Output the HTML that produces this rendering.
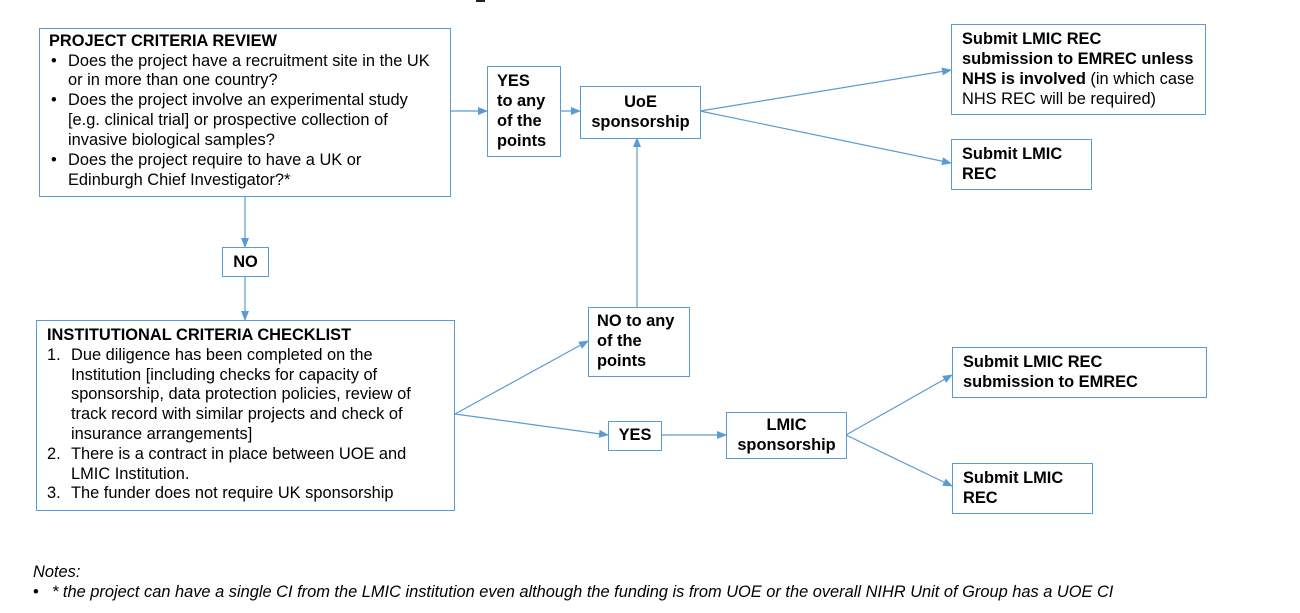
<!DOCTYPE html>
<html><head><meta charset="utf-8"><style>
body{margin:0;background:#fff;}
#c{position:relative;width:1300px;height:613px;overflow:hidden;font-family:"Liberation Sans",Arial,sans-serif;font-size:16.4px;color:#000;}
.b{position:absolute;border:1.3px solid #5b9bd5;box-sizing:border-box;background:#fff;}
.t{position:absolute;white-space:nowrap;line-height:20px;}
.bd{font-weight:bold;}
svg{position:absolute;left:0;top:0;}
</style></head><body><div id="c">
<svg width="1300" height="613">
<defs><marker id="a" markerWidth="10" markerHeight="8" refX="9" refY="4" orient="auto" markerUnits="userSpaceOnUse"><path d="M0,0 L10,4 L0,8 z" fill="#5b9bd5"/></marker></defs>
<g stroke="#5b9bd5" stroke-width="1.2" fill="none">
<line x1="450" y1="111" x2="487" y2="111" marker-end="url(#a)"/>
<line x1="560" y1="111" x2="580" y2="111" marker-end="url(#a)"/>
<line x1="700" y1="111" x2="951" y2="70" marker-end="url(#a)"/>
<line x1="700" y1="111" x2="951" y2="163" marker-end="url(#a)"/>
<line x1="245" y1="196" x2="245" y2="247" marker-end="url(#a)"/>
<line x1="245" y1="276" x2="245" y2="320" marker-end="url(#a)"/>
<line x1="455" y1="414" x2="588" y2="341" marker-end="url(#a)"/>
<line x1="455" y1="414" x2="608" y2="435" marker-end="url(#a)"/>
<line x1="637" y1="307" x2="637" y2="138" marker-end="url(#a)"/>
<line x1="661" y1="435" x2="726" y2="435" marker-end="url(#a)"/>
<line x1="846" y1="435" x2="952" y2="375" marker-end="url(#a)"/>
<line x1="846" y1="435" x2="952" y2="486" marker-end="url(#a)"/>
</g>
<rect x="476" y="0" width="9" height="2" fill="#222"/>
</svg>

<div class="b" style="left:39px;top:28px;width:412px;height:169px"></div>
<div class="t bd" style="left:49px;top:31px">PROJECT CRITERIA REVIEW</div>
<div class="t" style="left:51px;top:51px">•</div><div class="t" style="left:68px;top:51px">Does the project have a recruitment site in the UK</div>
<div class="t" style="left:68px;top:70px">or in more than one country?</div>
<div class="t" style="left:51px;top:90px">•</div><div class="t" style="left:68px;top:90px">Does the project involve an experimental study</div>
<div class="t" style="left:68px;top:110px">[e.g. clinical trial] or prospective collection of</div>
<div class="t" style="left:68px;top:130px">invasive biological samples?</div>
<div class="t" style="left:51px;top:150px">•</div><div class="t" style="left:68px;top:150px">Does the project require to have a UK or</div>
<div class="t" style="left:68px;top:170px">Edinburgh Chief Investigator?*</div>

<div class="b" style="left:487px;top:66px;width:74px;height:91px"></div>
<div class="t bd" style="left:497px;top:71px">YES<br>to any<br>of the<br>points</div>

<div class="b" style="left:580px;top:86px;width:121px;height:53px"></div>
<div class="t bd" style="left:580px;top:92px;width:121px;text-align:center">UoE<br>sponsorship</div>

<div class="b" style="left:951px;top:24px;width:255px;height:91px"></div>
<div class="t" style="left:962px;top:29px"><b>Submit LMIC REC</b><br><b>submission to EMREC unless</b><br><b>NHS is involved</b> (in which case<br>NHS REC will be required)</div>

<div class="b" style="left:951px;top:139px;width:141px;height:51px"></div>
<div class="t bd" style="left:962px;top:144px">Submit LMIC<br>REC</div>

<div class="b" style="left:222px;top:247px;width:47px;height:30px"></div>
<div class="t bd" style="left:222px;top:252px;width:47px;text-align:center">NO</div>

<div class="b" style="left:36px;top:320px;width:419px;height:191px"></div>
<div class="t bd" style="left:47px;top:325px">INSTITUTIONAL CRITERIA CHECKLIST</div>
<div class="t" style="left:47px;top:345px">1.</div><div class="t" style="left:71px;top:345px">Due diligence has been completed on the</div>
<div class="t" style="left:71px;top:365px">Institution [including checks for capacity of</div>
<div class="t" style="left:71px;top:384px">sponsorship, data protection policies, review of</div>
<div class="t" style="left:71px;top:404px">track record with similar projects and check of</div>
<div class="t" style="left:71px;top:424px">insurance arrangements]</div>
<div class="t" style="left:47px;top:444px">2.</div><div class="t" style="left:71px;top:444px">There is a contract in place between UOE and</div>
<div class="t" style="left:71px;top:464px">LMIC Institution.</div>
<div class="t" style="left:47px;top:483px">3.</div><div class="t" style="left:71px;top:483px">The funder does not require UK sponsorship</div>

<div class="b" style="left:588px;top:307px;width:102px;height:70px"></div>
<div class="t bd" style="left:597px;top:311px">NO to any<br>of the<br>points</div>

<div class="b" style="left:608px;top:421px;width:54px;height:30px"></div>
<div class="t bd" style="left:608px;top:425px;width:54px;text-align:center">YES</div>

<div class="b" style="left:726px;top:412px;width:121px;height:47px"></div>
<div class="t bd" style="left:726px;top:415px;width:121px;text-align:center">LMIC<br>sponsorship</div>

<div class="b" style="left:952px;top:347px;width:255px;height:51px"></div>
<div class="t bd" style="left:963px;top:352px">Submit LMIC REC<br>submission to EMREC</div>

<div class="b" style="left:952px;top:463px;width:141px;height:51px"></div>
<div class="t bd" style="left:963px;top:468px">Submit LMIC<br>REC</div>

<div class="t" style="left:33px;top:562px;font-style:italic">Notes:</div>
<div class="t" style="left:33px;top:582px">•</div>
<div class="t" style="left:52px;top:582px;font-style:italic">* the project can have a single CI from the LMIC institution even although the funding is from UOE or the overall NIHR Unit of Group has a UOE CI</div>
</div></body></html>
